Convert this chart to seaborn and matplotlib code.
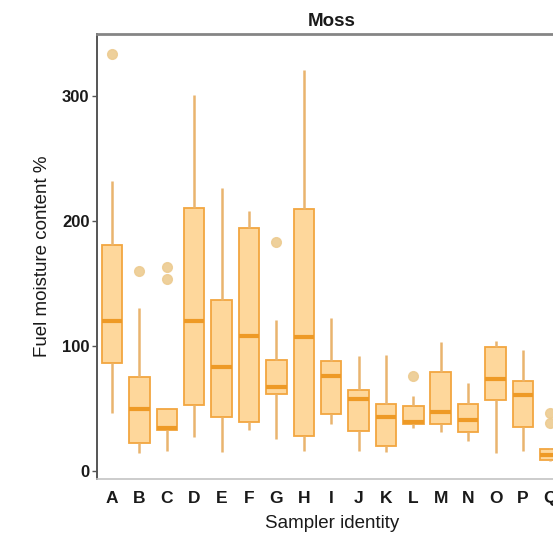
import numpy as np
import pandas as pd
import matplotlib
matplotlib.use("Agg")
import matplotlib.pyplot as plt
import seaborn as sns

# ---- data ----
samplers = list("ABCDEFGHIJKLMNOPQ")
whisker_low = [46.7, 14.7, 16.0, 27.5, 15.5, 33.4, 25.9, 16.0, 37.9, 16.0, 15.5, 34.7, 31.2, 24.6, 14.7, 16.0, 8.0]
q1 = [86.7, 22.7, 32.8, 53.4, 43.2, 39.5, 62.2, 28.6, 46.2, 32.6, 20.6, 37.9, 38.2, 31.2, 57.4, 35.2, 9.4]
median = [120.0, 49.9, 34.7, 120.0, 83.5, 108.6, 67.5, 107.5, 76.6, 58.2, 43.5, 39.5, 47.2, 41.4, 73.9, 61.4, 13.0]
q3 = [181.0, 75.5, 50.2, 211.0, 137.4, 194.7, 89.4, 209.9, 88.0, 65.4, 53.9, 52.6, 79.5, 53.9, 99.2, 72.0, 17.9]
whisker_high = [232.0, 130.7, 50.2, 301.0, 226.7, 208.6, 121.4, 321.4, 122.7, 92.0, 92.8, 60.0, 103.5, 70.7, 104.0, 96.8, 19.0]
outliers = {"A": [334.0], "B": [160.5], "C": [163.5, 154.2], "G": [183.5], "L": [76.0], "Q": [47.0, 39.0]}

# build a sample per sampler whose box statistics reproduce the values above
rows = []
N = 50
for i, s in enumerate(samplers):
    vals = [whisker_low[i], whisker_high[i]] + [q1[i]] * N + [median[i]] * N + [q3[i]] * N
    vals += outliers.get(s, [])
    rows += [(s, v) for v in vals]
df = pd.DataFrame(rows, columns=["Sampler identity", "Fuel moisture content %"])

sns.set_theme(style="white")
plt.rcParams["font.family"] = ["Liberation Sans", "DejaVu Sans"]

W, H = 553, 536
fig = plt.figure(figsize=(W / 100, H / 100), dpi=100)
left_px, right_px = 96.5, 566.8
top_px, bot_px = 34.0, 478.8
ax = fig.add_axes([left_px / W, 1 - bot_px / H, (right_px - left_px) / W, (bot_px - top_px) / H])

fill = "#FED79B"
edge = "#F2A640"
med_c = "#EE9A26"
whisk_c = "#E9B46E"
flier_c = "#EDCB90"

sns.boxplot(
    data=df, x="Sampler identity", y="Fuel moisture content %", order=samplers,
    width=0.75, color=fill, linecolor=edge, linewidth=1.3, ax=ax,
    boxprops=dict(facecolor=fill, edgecolor=edge, linewidth=1.3),
    medianprops=dict(color=med_c, linewidth=3.0),
    whiskerprops=dict(color=whisk_c, linewidth=1.8),
    capprops=dict(linewidth=0),
    flierprops=dict(marker="o", markersize=7, markerfacecolor=flier_c,
                    markeredgecolor=flier_c, alpha=0.9),
)

ax.set_xlim(-0.566, 16.6)
ax.set_ylim(-6.0, 350.0)
ax.set_yticks([0, 100, 200, 300])

for side in ["top", "left", "bottom", "right"]:
    ax.spines[side].set_visible(True)
ax.spines["top"].set_color("#858585")
ax.spines["top"].set_linewidth(2.0)
ax.spines["left"].set_color("#555555")
ax.spines["left"].set_linewidth(1.4)
ax.spines["bottom"].set_color("#C4C4C4")
ax.spines["bottom"].set_linewidth(1.2)
ax.spines["right"].set_color("#858585")

ax.tick_params(axis="x", length=0, pad=8.5, labelsize=12.5, labelcolor="#1A1A1A")
ax.tick_params(axis="y", length=3.5, width=1.0, color="#555555", pad=1.5, labelsize=12, labelcolor="#1A1A1A", left=True)
for lab in ax.get_xticklabels() + ax.get_yticklabels():
    lab.set_fontweight("bold")

ax.set_xlabel("Sampler identity", fontsize=13.5, color="#1A1A1A", labelpad=7)
ax.set_ylabel("Fuel moisture content %", fontsize=13.5, color="#1A1A1A", labelpad=8)
ax.set_title("Moss", fontsize=13.5, fontweight="bold", color="#1A1A1A", pad=6)
ax.grid(False)

fig.savefig("out.png", dpi=100)
